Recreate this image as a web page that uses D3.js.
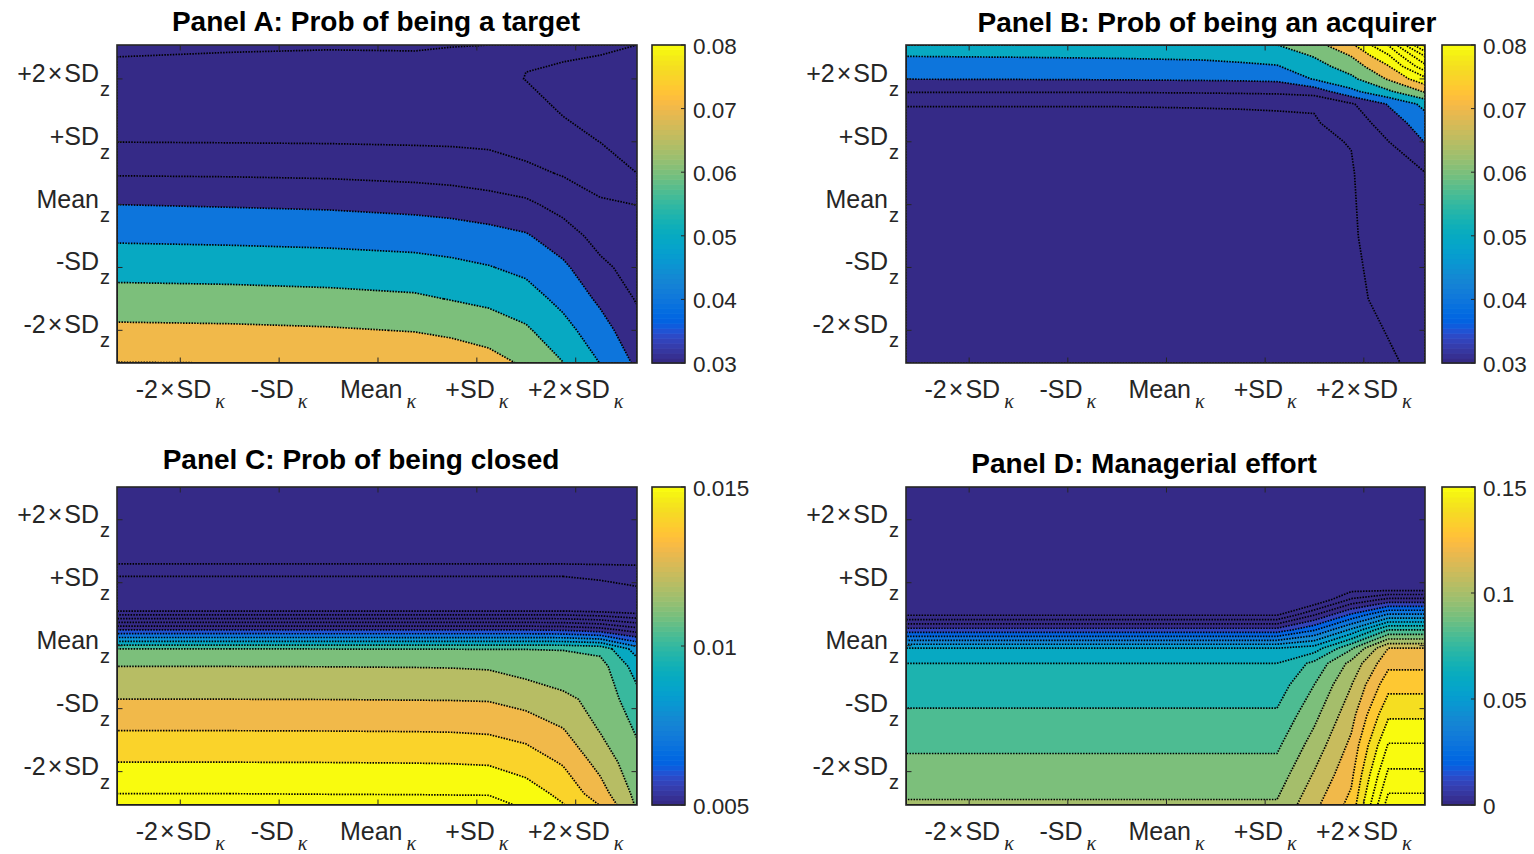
<!DOCTYPE html>
<html><head><meta charset="utf-8">
<script src="https://cdn.jsdelivr.net/npm/d3@7"></script>
<style>body{margin:0;background:#fff}svg{display:block}</style>
</head><body>
<svg id="chart" width="1534" height="854"></svg>
<script>
// ---------------- DATA ----------------
// kappa grid (x, in SD units) shared by all panels
const kappaGrid = [-2.64, -1.5, -0.5, 0.37, 0.744, 1.12, 1.496, 1.872, 2.248, 2.62];
const tickValues = [-2, -1, 0, 1, 2];
const tickLabels = ["-2×SD", "-SD", "Mean", "+SD", "+2×SD"];

// Panel A: Prob of being a target  (one array per kappa column, z from bottom to top)
const zGridA = [-2.52, -2, -1.5, -1, -0.5, 0, 0.5, 1, 1.5, 2, 2.54];
const valuesA = [
  [0.0802, 0.0721, 0.0641, 0.05625, 0.0482, 0.0400, 0.0291, 0.0199, 0.0163, 0.0126, 0.0086],
  [0.0800, 0.0717, 0.0636, 0.0558, 0.0476, 0.0393, 0.0288, 0.0197, 0.0163, 0.0129, 0.0092],
  [0.0792, 0.0709, 0.0628, 0.0550, 0.0469, 0.0386, 0.0282, 0.0195, 0.0163, 0.0130, 0.0095],
  [0.0779, 0.0696, 0.0615, 0.0538, 0.0458, 0.0372, 0.0270, 0.0191, 0.0160, 0.0128, 0.0094],
  [0.0764, 0.0680, 0.0596, 0.0524, 0.0448, 0.0362, 0.0261, 0.0189, 0.0159, 0.0130, 0.0098],
  [0.0738, 0.0655, 0.0577, 0.0505, 0.0433, 0.0344, 0.0245, 0.0185, 0.0158, 0.0130, 0.0100],
  [0.0685, 0.0614, 0.0543, 0.0476, 0.0410, 0.0320, 0.0225, 0.0160, 0.0134, 0.0098, 0.0108],
  [0.0602, 0.0535, 0.0472, 0.0419, 0.0346, 0.0266, 0.0192, 0.0130, 0.0093, 0.0094, 0.0106],
  [0.0498, 0.0440, 0.0382, 0.0322, 0.0265, 0.0213, 0.0157, 0.0099, 0.0090, 0.0093, 0.0103],
  [0.0382, 0.0335, 0.0292, 0.0261, 0.0230, 0.0199, 0.0100, 0.0090, 0.0085, 0.0090, 0.0100]
];
const levelsA = [0.01, 0.02, 0.03, 0.04, 0.05, 0.06, 0.07, 0.08];
const cbTicksA = [0.03, 0.04, 0.05, 0.06, 0.07, 0.08];
const cbLabelsA = ["0.03", "0.04", "0.05", "0.06", "0.07", "0.08"];

// Panel B: Prob of being an acquirer
const zGridB = [-2.52, -1.5, -0.5, 0.5, 1.0, 1.3, 1.6, 1.8, 2.0, 2.2, 2.37, 2.54];
const valuesB = [
  [0.0145, 0.0150, 0.0155, 0.0165, 0.0175, 0.0180, 0.0203, 0.0308, 0.0402, 0.0457, 0.0503, 0.0550],
  [0.0145, 0.0150, 0.0155, 0.0165, 0.0175, 0.0180, 0.0203, 0.0308, 0.0404, 0.0460, 0.0507, 0.0553],
  [0.0146, 0.0151, 0.0156, 0.0166, 0.0176, 0.0181, 0.0203, 0.0308, 0.0407, 0.0464, 0.0512, 0.0555],
  [0.0147, 0.0152, 0.0158, 0.0168, 0.0178, 0.0182, 0.0205, 0.0313, 0.0412, 0.0471, 0.0520, 0.0565],
  [0.0148, 0.0153, 0.0160, 0.0170, 0.0180, 0.0184, 0.0206, 0.0317, 0.0415, 0.0479, 0.0534, 0.0580],
  [0.0152, 0.0158, 0.0165, 0.0175, 0.0183, 0.0186, 0.0208, 0.0322, 0.0421, 0.0494, 0.0544, 0.0599],
  [0.0165, 0.0170, 0.0175, 0.0182, 0.0188, 0.0190, 0.0210, 0.0343, 0.0507, 0.0561, 0.0607, 0.0662],
  [0.0178, 0.0183, 0.0188, 0.0192, 0.0203, 0.0248, 0.0288, 0.0475, 0.0577, 0.0647, 0.0704, 0.0780],
  [0.0188, 0.0220, 0.0251, 0.0282, 0.0298, 0.0344, 0.0407, 0.0583, 0.0710, 0.0793, 0.0888, 0.1005],
  [0.0225, 0.0245, 0.0270, 0.0297, 0.0403, 0.0455, 0.0527, 0.0710, 0.0870, 0.1070, 0.1210, 0.1430]
];
const levelsB = [0.01, 0.02, 0.03, 0.04, 0.05, 0.06, 0.07, 0.08, 0.09, 0.10, 0.11, 0.12, 0.13, 0.14, 0.15];
const cbTicksB = [0.03, 0.04, 0.05, 0.06, 0.07, 0.08];
const cbLabelsB = ["0.03", "0.04", "0.05", "0.06", "0.07", "0.08"];

// Panel C: Prob of being closed
const zGridC = [-2.53, -2.35, -1.85, -1.35, -0.85, -0.33, -0.05, 0.25, 0.55, 1.1, 1.3, 2.52];
const valuesC = [
  [0.01638, 0.01600, 0.01500, 0.01400, 0.01300, 0.01200, 0.01100, 0.00600, 0.00100, 0.00000, -0.00101, -0.00130],
  [0.01637, 0.01600, 0.01500, 0.01400, 0.01300, 0.01200, 0.01100, 0.00600, 0.00100, 0.00000, -0.00101, -0.00130],
  [0.01635, 0.01598, 0.01499, 0.01399, 0.01299, 0.01199, 0.01099, 0.00600, 0.00100, 0.00000, -0.00101, -0.00130],
  [0.01632, 0.01597, 0.01497, 0.01397, 0.01297, 0.01197, 0.01098, 0.00600, 0.00100, 0.00000, -0.00101, -0.00130],
  [0.01630, 0.01596, 0.01495, 0.01395, 0.01296, 0.01195, 0.01098, 0.00600, 0.00100, 0.00000, -0.00101, -0.00130],
  [0.01630, 0.01595, 0.01489, 0.01388, 0.01293, 0.01189, 0.01097, 0.00600, 0.00100, 0.00000, -0.00101, -0.00130],
  [0.01586, 0.01548, 0.01453, 0.01362, 0.01264, 0.01159, 0.01098, 0.00600, 0.00100, 0.00000, -0.00101, -0.00130],
  [0.01505, 0.01474, 0.01390, 0.01307, 0.01221, 0.01139, 0.01096, 0.00590, 0.00100, 0.00000, -0.00101, -0.00130],
  [0.01397, 0.01344, 0.01265, 0.01195, 0.01170, 0.01140, 0.01070, 0.00550, 0.00080, -0.00010, -0.00105, -0.00130],
  [0.01185, 0.01170, 0.01130, 0.01090, 0.01035, 0.00955, 0.00850, 0.00450, 0.00050, -0.00020, -0.00110, -0.00135]
];
const levelsC = [-0.001, 0, 0.001, 0.002, 0.003, 0.004, 0.005, 0.006, 0.007, 0.008, 0.009, 0.010, 0.011, 0.012, 0.013, 0.014, 0.015, 0.016];
const cbTicksC = [0.005, 0.01, 0.015];
const cbLabelsC = ["0.005", "0.01", "0.015"];

// Panel D: Managerial effort
const zGridD = [-2.53, -2.05, -1.58, -1.1, -0.62, -0.28, -0.04, 0.25, 0.49, 0.73, 0.97, 2.52];
const valuesD = [
  [0.1012, 0.0946, 0.0882, 0.0815, 0.0748, 0.07001, 0.06001, 0.0139, -0.0210, -0.0220, -0.0230, -0.0250],
  [0.1012, 0.0946, 0.0882, 0.0815, 0.0748, 0.07001, 0.06001, 0.0139, -0.0210, -0.0220, -0.0230, -0.0250],
  [0.1012, 0.0946, 0.0882, 0.0815, 0.0748, 0.07001, 0.06001, 0.0139, -0.0210, -0.0220, -0.0230, -0.0250],
  [0.1012, 0.0946, 0.0882, 0.0815, 0.0748, 0.07001, 0.06001, 0.0139, -0.0210, -0.0220, -0.0230, -0.0250],
  [0.1012, 0.0946, 0.0882, 0.0815, 0.0748, 0.07001, 0.06001, 0.0139, -0.0210, -0.0220, -0.0230, -0.0250],
  [0.1012, 0.0946, 0.0882, 0.0815, 0.0748, 0.07001, 0.06001, 0.0139, -0.0210, -0.0220, -0.0230, -0.0250],
  [0.1175, 0.1109, 0.1042, 0.0972, 0.0899, 0.0825, 0.0645, 0.0290, -0.0006, -0.0300, -0.0320, -0.0340],
  [0.1332, 0.1275, 0.1223, 0.1163, 0.1096, 0.1029, 0.0885, 0.0520, 0.0218, -0.0084, -0.0300, -0.0320],
  [0.1849, 0.1723, 0.1608, 0.1484, 0.1363, 0.1272, 0.1200, 0.0803, 0.0417, 0.0032, -0.0350, -0.0370],
  [0.1849, 0.1723, 0.1608, 0.1484, 0.1363, 0.1272, 0.1200, 0.0803, 0.0417, 0.0032, -0.0350, -0.0370]
];
const levelsD = [-0.02, -0.01, 0, 0.01, 0.02, 0.03, 0.04, 0.05, 0.06, 0.07, 0.08, 0.09, 0.10, 0.11, 0.12, 0.13, 0.14, 0.15, 0.16, 0.17, 0.18];
const cbTicksD = [0, 0.05, 0.1, 0.15];
const cbLabelsD = ["0", "0.05", "0.1", "0.15"];

// parula colormap (64 entries)
const parula = ["#352a87","#363093","#3637a0","#353dad","#3243ba","#2c4ac7","#2053d4","#0f5cdd",
"#0363e1","#0268e1","#046de0","#0871de","#0d75dc","#1079da","#127dd8","#1481d6",
"#1485d4","#1389d3","#108ed2","#0c93d2","#0998d1","#079ccf","#06a0cd","#06a4ca",
"#06a7c6","#07a9c2","#0aacbe","#0faeb9","#15b1b4","#1db3af","#25b5a9","#2eb7a4",
"#38b99e","#42bb98","#4dbc92","#59bd8c","#65be86","#71bf80","#7cbf7b","#87bf77",
"#92bf73","#9cbf6f","#a5be6b","#aebe67","#b7bd64","#c0bc60","#c8bc5d","#d1bb59",
"#d9ba56","#e1b952","#e9b94e","#f1b94a","#f8bb44","#fdbe3d","#ffc337","#fec832",
"#fcce2e","#fad32a","#f7d826","#f5de21","#f5e41d","#f5eb18","#f6f313","#f9fb0e"];

// ---------------- LAYOUT ----------------
const FONT = "'Liberation Sans', Arial, Helvetica, sans-serif";
const kDomain = [-2.64, 2.62];
const panels = [
  {id:"A", title:"Panel A: Prob of being a target", zGrid:zGridA, values:valuesA, levels:levelsA, cRange:[0.03,0.08], cbTicks:cbTicksA, cbLabels:cbLabelsA,
   x0:117, x1:637, y0:45, y1:363, zDomain:[-2.52,2.54], cbX0:652, cbX1:685, titleX:376, titleY:31},
  {id:"B", title:"Panel B: Prob of being an acquirer", zGrid:zGridB, values:valuesB, levels:levelsB, cRange:[0.03,0.08], cbTicks:cbTicksB, cbLabels:cbLabelsB,
   x0:906, x1:1425, y0:45, y1:363, zDomain:[-2.52,2.54], cbX0:1442, cbX1:1475, titleX:1207, titleY:32},
  {id:"C", title:"Panel C: Prob of being closed", zGrid:zGridC, values:valuesC, levels:levelsC, cRange:[0.005,0.015], cbTicks:cbTicksC, cbLabels:cbLabelsC,
   x0:117, x1:637, y0:487, y1:805, zDomain:[-2.53,2.52], cbX0:652, cbX1:685, titleX:361, titleY:469},
  {id:"D", title:"Panel D: Managerial effort", zGrid:zGridD, values:valuesD, levels:levelsD, cRange:[0,0.15], cbTicks:cbTicksD, cbLabels:cbLabelsD,
   x0:906, x1:1425, y0:487, y1:805, zDomain:[-2.53,2.52], cbX0:1442, cbX1:1475, titleX:1144, titleY:473}
];

const svg = d3.select("#chart");
const defs = svg.append("defs");
const AXC = "#262626";

function addLabel(g, x, y, anchor, label, sub, subOpt) {
  const t = g.append("text").attr("x", x).attr("y", y).attr("text-anchor", anchor)
    .attr("font-family", FONT).attr("font-size", 25).attr("fill", AXC);
  const parts = label.split("×");
  parts.forEach((part, i) => {
    if (i > 0) t.append("tspan").attr("dx", 2).text("×");
    if (part.length) t.append("tspan").attr("dx", i > 0 ? 2 : 0).text(part);
  });
  t.append("tspan").attr("dx", subOpt.dx).attr("dy", subOpt.dy).attr("font-size", subOpt.size)
    .attr("font-family", subOpt.family).attr("font-style", subOpt.style).text(sub);
}

panels.forEach(p => {
  const g = svg.append("g");
  const x = d3.scaleLinear().domain(kDomain).range([p.x0, p.x1]);
  const y = d3.scaleLinear().domain(p.zDomain).range([p.y1, p.y0]);
  const nx = kappaGrid.length, ny = p.zGrid.length;
  const flat = new Array(nx * ny);
  for (let j = 0; j < ny; j++) for (let i = 0; i < nx; i++) flat[j * nx + i] = p.values[i][j];
  const u2k = d3.scaleLinear().domain(kappaGrid.map((_, i) => i + 0.5)).range(kappaGrid).clamp(true);
  const v2z = d3.scaleLinear().domain(p.zGrid.map((_, j) => j + 0.5)).range(p.zGrid).clamp(true);
  const contours = d3.contours().size([nx, ny]).thresholds(p.levels)(flat);
  const pathOf = c => c.coordinates.map(poly => poly.map(ring =>
      "M" + ring.map(([u, v]) => x(u2k(u)).toFixed(2) + "," + y(v2z(v)).toFixed(2)).join("L") + "Z").join("")).join("");
  const cIndex = L => Math.max(0, Math.min(63, Math.floor((L - p.cRange[0]) / (p.cRange[1] - p.cRange[0]) * 64 + 1e-9)));

  const clipId = "clip" + p.id;
  defs.append("clipPath").attr("id", clipId).append("rect")
    .attr("x", p.x0).attr("y", p.y0).attr("width", p.x1 - p.x0).attr("height", p.y1 - p.y0);
  const plot = g.append("g").attr("clip-path", `url(#${clipId})`);
  plot.append("rect").attr("x", p.x0).attr("y", p.y0).attr("width", p.x1 - p.x0).attr("height", p.y1 - p.y0)
    .attr("fill", parula[0]);
  plot.selectAll("path.fill").data(contours).join("path").attr("class", "fill")
    .attr("d", pathOf).attr("fill", c => parula[cIndex(c.value)]).attr("stroke", "none");
  plot.selectAll("path.line").data(contours).join("path").attr("class", "line")
    .attr("d", pathOf).attr("fill", "none").attr("stroke", "#000").attr("stroke-width", 1.7)
    .attr("stroke-dasharray", "1.5,1.3");

  // axes box
  g.append("rect").attr("x", p.x0).attr("y", p.y0).attr("width", p.x1 - p.x0).attr("height", p.y1 - p.y0)
    .attr("fill", "none").attr("stroke", AXC).attr("stroke-width", 1.6);
  const TL = 5.5;
  tickValues.forEach(t => {
    const tx = x(t), ty = y(t);
    g.append("line").attr("x1", tx).attr("x2", tx).attr("y1", p.y1).attr("y2", p.y1 - TL).attr("stroke", AXC);
    g.append("line").attr("x1", tx).attr("x2", tx).attr("y1", p.y0).attr("y2", p.y0 + TL).attr("stroke", AXC);
    g.append("line").attr("y1", ty).attr("y2", ty).attr("x1", p.x0).attr("x2", p.x0 + TL).attr("stroke", AXC);
    g.append("line").attr("y1", ty).attr("y2", ty).attr("x1", p.x1).attr("x2", p.x1 - TL).attr("stroke", AXC);
  });
  tickValues.forEach((t, i) => {
    addLabel(g, x(t), p.y1 + 35, "middle", tickLabels[i], "κ",
      {dx: 4, dy: 10, size: 20, family: "'Liberation Serif', 'DejaVu Serif', serif", style: "italic"});
    addLabel(g, p.x0 - 7, y(t) + 3, "end", tickLabels[i], "z",
      {dx: 1, dy: 14, size: 20, family: FONT, style: "normal"});
  });

  // title
  g.append("text").attr("x", p.titleX).attr("y", p.titleY).attr("text-anchor", "middle")
    .attr("font-family", FONT).attr("font-weight", "bold").attr("font-size", 28).attr("fill", "#000")
    .text(p.title);

  // colorbar
  const cb = d3.scaleLinear().domain(p.cRange).range([p.y1, p.y0]);
  const h = (p.y1 - p.y0) / 64;
  g.append("g").selectAll("rect").data(parula).join("rect")
    .attr("x", p.cbX0).attr("width", p.cbX1 - p.cbX0)
    .attr("y", (d, k) => p.y1 - (k + 1) * h).attr("height", (d, k) => k === 63 ? h : h + 0.6)
    .attr("fill", d => d);
  g.append("rect").attr("x", p.cbX0).attr("y", p.y0).attr("width", p.cbX1 - p.cbX0).attr("height", p.y1 - p.y0)
    .attr("fill", "none").attr("stroke", AXC).attr("stroke-width", 1.6);
  p.cbTicks.forEach((v, i) => {
    const ty = cb(v);
    g.append("line").attr("x1", p.cbX1).attr("x2", p.cbX1 - 4).attr("y1", ty).attr("y2", ty).attr("stroke", AXC);
    g.append("text").attr("x", p.cbX1 + 8).attr("y", ty + 9).attr("font-family", FONT)
      .attr("font-size", 22.5).attr("fill", AXC).text(p.cbLabels[i]);
  });
});
</script>
</body></html>
